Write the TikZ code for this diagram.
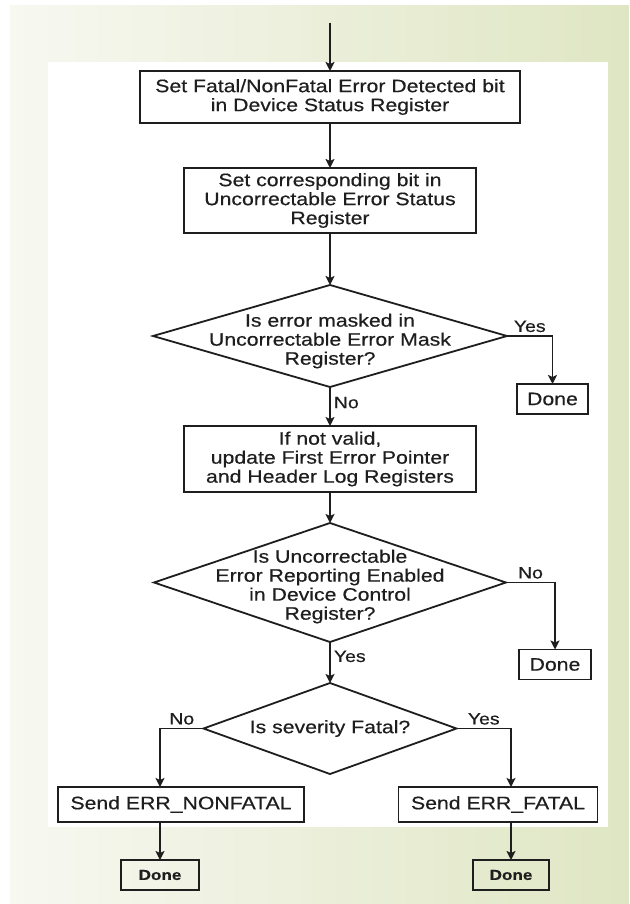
\documentclass[tikz,border=0pt]{standalone}
\usepackage{fontspec}
\setmainfont{Liberation Sans}[FakeStretch=1.18, FakeBold=0.4]
\usetikzlibrary{positioning,shapes.geometric,arrows.meta}

\definecolor{bgleft}{RGB}{247,248,241}
\definecolor{bgright}{RGB}{223,230,195}
\definecolor{ink}{RGB}{30,30,30}

\begin{document}
\begin{tikzpicture}[
    x=1pt, y=-1pt,
    stepbox/.style={rectangle, draw=ink, line width=1.8pt, inner sep=0pt, outer sep=0pt,
        align=center, text=ink, font=\fontsize{18}{19}\selectfont},
    decision/.style={diamond, draw=ink, line width=1.8pt, inner sep=0pt, outer sep=0pt},
    dtext/.style={align=center, text=ink, inner sep=0pt, font=\fontsize{18}{19}\selectfont},
    donebox/.style={stepbox, minimum width=76pt, minimum height=30pt,
        font=\fontsize{14.5}{16}\selectfont\bfseries},
    lbl/.style={text=ink, inner sep=3pt, font=\fontsize{16.5}{18}\selectfont},
    arrow/.style={-{Stealth[length=9pt,width=9pt,inset=2pt]}, line width=1.8pt, draw=ink}
]
    % page background and the white sheet
    \useasboundingbox (0,0) rectangle (629,904);
    \shade[left color=bgleft, right color=bgright] (10,6) rectangle (629,904);
    \fill[white] (48,62) rectangle (608,827);

    % main column
    \coordinate (start) at (330,23);
    \node[stepbox, minimum width=380pt, minimum height=52pt] (fatalbit) at (330,97)
        {Set Fatal/NonFatal Error Detected bit\\in Device Status Register};
    \node[stepbox, minimum width=292pt, minimum height=65pt, below=45pt of fatalbit] (uesbit)
        {Set corresponding bit in\\Uncorrectable Error Status\\Register};
    \node[decision, minimum width=354pt, minimum height=102pt, below=52pt of uesbit] (maskq) {};
    \node[dtext] (maskqtxt) at ([yshift=-5pt]maskq.center)
        {Is error masked in\\Uncorrectable Error Mask\\Register?};
    \node[stepbox, minimum width=292pt, minimum height=66pt, below=39pt of maskq] (logregs)
        {If not valid,\\update First Error Pointer\\and Header Log Registers};
    \node[decision, minimum width=352pt, minimum height=119pt, below=31pt of logregs] (enableq) {};
    \node[dtext] (enableqtxt) at ([yshift=-4pt]enableq.center)
        {Is Uncorrectable\\Error Reporting Enabled\\in Device Control\\Register?};
    \node[decision, minimum width=253pt, minimum height=91pt, below=41pt of enableq] (fatalq) {};
    \node[dtext] (fatalqtxt) at (fatalq.center) {Is severity Fatal?};

    % side exits
    \node[donebox, minimum width=71pt, anchor=north west, font=\fontsize{18}{19}\selectfont,
        below right=48pt and 10pt of maskq.east] (maskdone) {Done};
    \node[donebox, minimum width=72pt, anchor=north west, font=\fontsize{18}{19}\selectfont,
        below right=67pt and 13pt of enableq.east] (enabledone) {Done};

    % the two messages
    \node[stepbox, minimum width=246pt, minimum height=35pt, below=13pt of fatalq, xshift=-149pt] (sendnf)
        {Send ERR\_NONFATAL};
    \node[stepbox, minimum width=199pt, minimum height=35pt, below=13pt of fatalq, xshift=168pt] (sendf)
        {Send ERR\_FATAL};
    \node[donebox, minimum width=78pt, below=38pt of sendnf, xshift=-21pt] (nfdone) {Done};
    \node[donebox, below=38pt of sendf, xshift=13pt] (fdone) {Done};

    \draw[arrow] (start) -- (fatalbit);
    \draw[arrow] (fatalbit) -- (uesbit);
    \draw[arrow] (uesbit) -- (maskq);
    \draw[arrow] (maskq.east) -| (maskdone.north) node[lbl, above, pos=.25] {Yes};
    \draw[arrow] (maskq) -- (logregs) node[lbl, right, pos=.4] {No};
    \draw[arrow] (logregs) -- (enableq);
    \draw[arrow] (enableq.east) -| (enabledone.north) node[lbl, above, pos=.25] {No};
    \draw[arrow] (enableq) -- (fatalq) node[lbl, right, pos=.35] {Yes};
    \draw[arrow] (fatalq.west) -| (nfdone |- sendnf.north) node[lbl, above, pos=.25] {No};
    \draw[arrow] (fatalq.east) -| (fdone |- sendf.north) node[lbl, above, pos=.25] {Yes};
    \draw[arrow] (nfdone |- sendnf.south) -- (nfdone);
    \draw[arrow] (fdone |- sendf.south) -- (fdone);
\end{tikzpicture}
\end{document}
